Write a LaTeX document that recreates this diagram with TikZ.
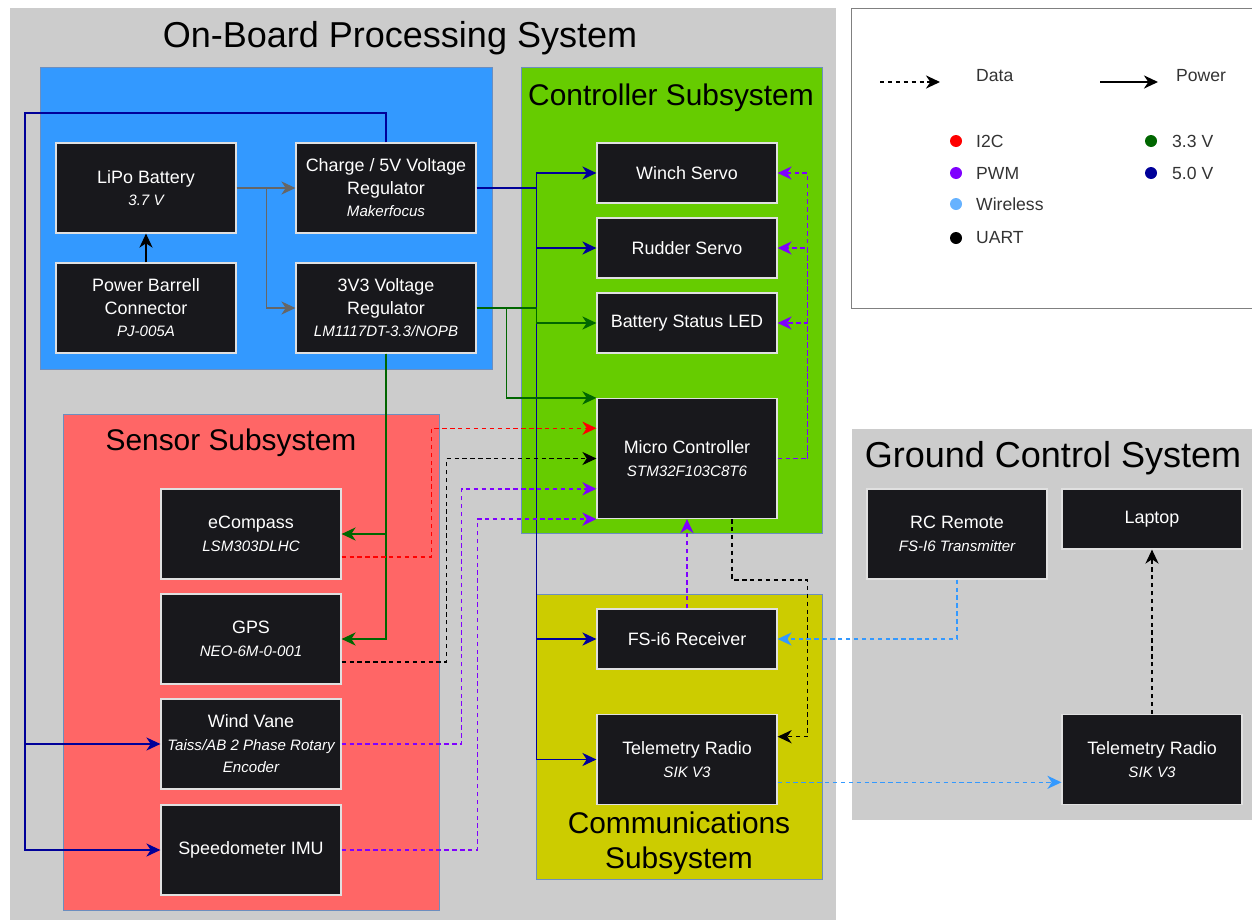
\documentclass[tikz,border=0pt]{standalone}
\usepackage{fontspec}
\setmainfont{Liberation Sans}
\usetikzlibrary{arrows.meta,calc,positioning}

\definecolor{bggray}{RGB}{204,204,204}
\definecolor{powerblue}{RGB}{51,153,255}
\definecolor{ctrlgreen}{RGB}{102,204,0}
\definecolor{sensred}{RGB}{255,102,102}
\definecolor{commyellow}{RGB}{204,204,0}
\definecolor{boxfill}{RGB}{24,24,28}
\definecolor{frame}{RGB}{108,142,191}
\definecolor{volt5}{RGB}{0,0,153}
\definecolor{volt3}{RGB}{0,102,0}
\definecolor{pwmcol}{RGB}{127,0,255}
\definecolor{wifi}{RGB}{51,153,255}
\definecolor{wifidot}{RGB}{102,178,255}
\definecolor{battline}{RGB}{102,102,102}

\newcommand{\partno}[1]{{\fontsize{8.6}{12.8}\selectfont\itshape #1}}

\tikzset{
    blk/.style={draw=white!88!black, fill=boxfill, text=white, line width=0.7pt,
        minimum width=3.6cm, minimum height=1.8cm, align=center, inner sep=1pt,
        font=\fontsize{10.2}{12.8}\selectfont},
    slim/.style={blk, minimum height=1.2cm},
    pwr/.style={-{Stealth[length=8pt,width=7.5pt,inset=2.5pt]}, line width=0.8pt},
    dat/.style={pwr, dash pattern=on 2.5pt off 2pt},
    dot/.style={circle, inner sep=0pt, minimum size=0.24cm},
    leg/.style={anchor=west, font=\fontsize{10}{12}\selectfont, text=black!80},
}

\begin{document}
\begin{tikzpicture}[x=0.02cm, y=-0.02cm]
    \useasboundingbox (0,0) rectangle (1252,920);

    % areas
    \fill[bggray] (10,8) rectangle (836,920);
    \filldraw[fill=powerblue, draw=frame] (40,67) rectangle (492,369);
    \filldraw[fill=ctrlgreen, draw=frame] (521,67) rectangle (822,533);
    \filldraw[fill=sensred, draw=frame] (63,414) rectangle (439,910);
    \filldraw[fill=commyellow, draw=frame] (536,594) rectangle (822,879);
    \fill[bggray] (852,429) rectangle (1252,820);
    \draw[black!50] (1252,8) -- (851,8) -- (851,308) -- (1252,308);

    % titles
    \node[font=\fontsize{20.5}{24}\selectfont] (obtitle) at (400,38) {On-Board Processing System};
    \node[font=\fontsize{20.5}{24}\selectfont] (gctitle) at (1053,458) {Ground Control System};
    \node[font=\fontsize{17}{20}\selectfont] (cstitle) at (671,98) {Controller Subsystem};
    \node[font=\fontsize{17}{20}\selectfont] (sstitle) at (231,443) {Sensor Subsystem};
    \node[font=\fontsize{17}{20}\selectfont, align=center] (comtitle) at (679,843) {Communications\\Subsystem};

    % power
    \node[blk] (lipo) at (146,188) {LiPo Battery\\\partno{3.7 V}};
    \node[blk] (barrel) at (146,308) {Power Barrell\\Connector\\\partno{PJ-005A}};
    \node[blk] (charge) at (386,188) {Charge / 5V Voltage\\Regulator\\\partno{Makerfocus}};
    \node[blk] (reg3) at (386,308) {3V3 Voltage\\Regulator\\\partno{LM1117DT-3.3/NOPB}};

    % controller
    \node[slim] (winch) at (687,173) {Winch Servo};
    \node[slim] (rudder) at (687,248) {Rudder Servo};
    \node[slim] (led) at (687,323) {Battery Status LED};
    \node[blk, minimum height=2.4cm] (mc) at (687,458.5) {Micro Controller\\\partno{STM32F103C8T6}};

    % sensors
    \node[blk] (ecomp) at (251,534) {eCompass\\\partno{LSM303DLHC}};
    \node[blk] (gps) at (251,639) {GPS\\\partno{NEO-6M-0-001}};
    \node[blk] (vane) at (251,744) {Wind Vane\\\partno{Taiss/AB 2 Phase Rotary}\\\partno{Encoder}};
    \node[blk] (imu) at (251,850) {Speedometer IMU};

    % communications
    \node[slim] (rx) at (687,639) {FS-i6 Receiver};
    \node[blk] (tele) at (687,759.5) {Telemetry Radio\\\partno{SIK V3}};

    % ground
    \node[blk] (rc) at (957,534) {RC Remote\\\partno{FS-I6 Transmitter}};
    \node[slim] (laptop) at (1152,519) {Laptop};
    \node[blk] (gtele) at (1152,759.5) {Telemetry Radio\\\partno{SIK V3}};

    % battery feed
    \coordinate (jb) at ($(lipo.east)+(30,0)$);
    \draw[pwr, battline] (lipo.east) -- (charge.west);
    \draw[pwr, battline] (jb) |- (reg3.west);
    \draw[pwr] (barrel.north) -- (lipo.south);

    % 5.0 V
    \coordinate (j5) at ($(charge.east)+(60,0)$);
    \coordinate (j5l) at (25,113);
    \draw[pwr, volt5] (charge.east) -- (j5) |- (winch.west);
    \draw[pwr, volt5] (j5) |- (rudder.west);
    \draw[pwr, volt5] (j5) |- (rx.west);
    \draw[pwr, volt5] (j5) |- (tele.west);
    \draw[pwr, volt5] (charge.north) |- (j5l) |- (vane.west);
    \draw[pwr, volt5] (j5l) |- (imu.west);

    % 3.3 V
    \coordinate (j3) at ($(reg3.east)+(30,0)$);
    \draw[pwr, volt3] (reg3.east) -- (j3) |- (mc.north west);
    \draw[pwr, volt3] (j3) -- ++(30,0) |- (led.west);
    \draw[pwr, volt3] (reg3.south) |- (ecomp.east);
    \draw[pwr, volt3] (reg3.south) |- (gps.east);

    % data
    \draw[dat, red] ($(ecomp.north east)!0.75!(ecomp.south east)$) -- ++(90,0) |- ($(mc.north west)!0.25!(mc.south west)$);
    \draw[dat, black] ($(gps.north east)!0.75!(gps.south east)$) -- ++(105,0) |- (mc.west);
    \draw[dat, pwmcol] (vane.east) -- ++(120,0) |- ($(mc.north west)!0.75!(mc.south west)$);
    \draw[dat, pwmcol] (imu.east) -- ++(136,0) |- (mc.south west);
    \coordinate (jp) at ($(mc.east)+(30,0)$);
    \draw[dat, pwmcol] (mc.east) -- (jp) |- (winch.east);
    \draw[dat, pwmcol] (jp) |- (rudder.east);
    \draw[dat, pwmcol] (jp) |- (led.east);
    \draw[dat, pwmcol] (rx.north) -- (mc.south);
    \draw[dat, black] ($(mc.south)+(45,0)$) -- ++(0,61) -| ($(tele.north east)!0.25!(tele.south east)+(30,0)$) -- ($(tele.north east)!0.25!(tele.south east)$);
    \draw[dat, wifi] (rc.south) |- (rx.east);
    \draw[dat, wifi] ($(tele.north east)!0.75!(tele.south east)$) -- ($(gtele.north west)!0.75!(gtele.south west)$);
    \draw[dat, black] (gtele.north) -- (laptop.south);

    % legend
    \coordinate (ldata) at (880,82);
    \coordinate (lpower) at (1100,82);
    \draw[dat, black] (ldata) -- ++(60,0);
    \draw[pwr, black] (lpower) -- ++(58,0);
    \node[leg] (datatxt) at (970,76) {Data};
    \node[leg] (powertxt) at (1170,76) {Power};
    \node[dot, fill=red] (di2c) at (956,141) {};
    \node[dot, fill=pwmcol] (dpwm) at (956,173) {};
    \node[dot, fill=wifidot] (dwifi) at (956,204) {};
    \node[dot, fill=black] (duart) at (956,238) {};
    \node[dot, fill=volt3] (d33) at (1151,141) {};
    \node[dot, fill=volt5] (d50) at (1151,173) {};
    \node[leg] at (970,141) {I2C};
    \node[leg] at (970,173) {PWM};
    \node[leg] at (970,204) {Wireless};
    \node[leg] at (970,238) {UART};
    \node[leg] at (1166,141) {3.3 V};
    \node[leg] at (1166,173) {5.0 V};
\end{tikzpicture}
\end{document}
